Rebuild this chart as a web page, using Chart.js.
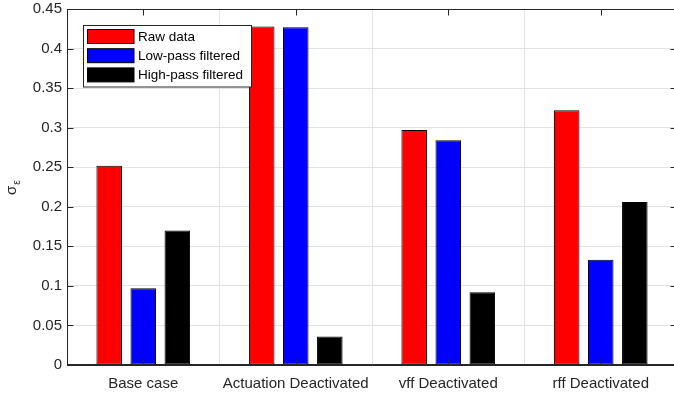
<!DOCTYPE html>
<html>
<head>
<meta charset="utf-8">
<script src="https://cdn.jsdelivr.net/npm/chart.js@4"></script>
<style>
html,body{margin:0;padding:0;background:#fff;overflow:hidden;}
#wrap{width:674px;height:396px;position:relative;overflow:hidden;}
#c{position:absolute;left:0;top:0;}
</style>
</head>
<body>
<div id="wrap"><canvas id="c" width="680" height="396"></canvas></div>
<script>
const categories = ['Base case', 'Actuation Deactivated', 'vff Deactivated', 'rff Deactivated'];
const seriesNames = ['Raw data', 'Low-pass filtered', 'High-pass filtered'];
const rawData = [0.252, 0.428, 0.297, 0.322];
const lowPass = [0.097, 0.427, 0.284, 0.133];
const highPass = [0.170, 0.036, 0.092, 0.206];
const yTicks = [0, 0.05, 0.1, 0.15, 0.2, 0.25, 0.3, 0.35, 0.4, 0.45];
const yLabel = ['σ', 'ε'];

const colors = ['#ff0000', '#0000ff', '#000000'];
const axisColor = '#262626';
const FONT = '"Liberation Sans", Arial, Helvetica, sans-serif';

function toPoints(arr){ return arr.map((v,i)=>({x:i+1, y:v})); }

const series = [rawData, lowPass, highPass];
const datasets = series.map((s, k) => ({
  label: seriesNames[k],
  data: toPoints(s),
  backgroundColor: colors[k],
  borderColor: '#000000',
  borderWidth: 1,
  borderSkipped: false,
  categoryPercentage: 0.67,
  barPercentage: 0.75
}));

const axesPlugin = {
  id: 'matlabAxes',
  afterDatasetsDraw(chart){
    const ctx = chart.ctx, a = chart.chartArea;
    const xs = chart.scales.x, ys = chart.scales.y;
    ctx.save();
    ctx.strokeStyle = axisColor;
    ctx.lineWidth = 1;
    const L = Math.round(a.left)+0.5, R = Math.round(a.right)-0.5, T = Math.round(a.top)+0.5, B = Math.round(a.bottom)-0.5;
    ctx.beginPath();
    ctx.moveTo(L, T); ctx.lineTo(R, T); ctx.lineTo(R, B); ctx.lineTo(L, B); ctx.closePath();
    ctx.stroke();
    const tl = 6;
    ctx.beginPath();
    yTicks.forEach(v => {
      const y = Math.round(ys.getPixelForValue(v)) + 0.5;
      ctx.moveTo(L, y); ctx.lineTo(L + tl, y);
      ctx.moveTo(R, y); ctx.lineTo(R - tl, y);
    });
    categories.forEach((c, i) => {
      const x = Math.round(xs.getPixelForValue(i+1)) + 0.5;
      ctx.moveTo(x, B); ctx.lineTo(x, B - tl);
      ctx.moveTo(x, T); ctx.lineTo(x, T + tl);
    });
    ctx.stroke();
    ctx.restore();
  },
  afterDraw(chart){
    const ctx = chart.ctx, a = chart.chartArea;
    ctx.save();
    ctx.fillStyle = axisColor;
    ctx.translate(16, (a.top + a.bottom)/2 + 2);
    ctx.rotate(-Math.PI/2);
    ctx.textBaseline = 'alphabetic';
    ctx.textAlign = 'left';
    ctx.font = '15px ' + FONT;
    const w = ctx.measureText(yLabel[0]).width;
    ctx.fillText(yLabel[0], -6, 0);
    ctx.font = '10px ' + FONT;
    ctx.fillText(yLabel[1], -6 + w + 1, 4);
    ctx.restore();

    ctx.save();
    const bx = 83.5, by = 25.5, bw = 168, bh = 61.5;
    ctx.fillStyle = '#ffffff';
    ctx.fillRect(bx, by, bw, bh);
    ctx.strokeStyle = axisColor;
    ctx.lineWidth = 1;
    ctx.strokeRect(bx, by, bw, bh);
    ctx.font = '13.5px ' + FONT;
    ctx.textBaseline = 'middle';
    ctx.textAlign = 'left';
    chart.data.datasets.forEach((ds, k) => {
      const sy = 29.5 + k*19.2;
      ctx.fillStyle = ds.backgroundColor;
      ctx.fillRect(87.5, sy, 46.5, 14);
      ctx.strokeStyle = '#000000';
      ctx.strokeRect(87.5, sy, 46.5, 14);
      ctx.fillStyle = '#000000';
      ctx.fillText(ds.label, 138, sy + 7.5);
    });
    ctx.restore();
  }
};

new Chart(document.getElementById('c'), {
  type: 'bar',
  data: { datasets },
  plugins: [axesPlugin],
  options: {
    responsive: false,
    animation: false,
    devicePixelRatio: 1,
    layout: { padding: { left: 0, right: 3, top: 9, bottom: 0 } },
    plugins: { legend: { display: false }, tooltip: { enabled: false }, title: { display: false } },
    scales: {
      x: {
        type: 'linear',
        min: 0.5, max: 4.5,
        offset: false,
        afterBuildTicks: (scale) => { scale.ticks = categories.map((c, i) => ({ value: i + 1 })); },
        afterFit: (scale) => { scale.height = 31; scale.paddingLeft = 0; scale.paddingRight = 0; },
        ticks: {
          autoSkip: false, maxRotation: 0, minRotation: 0,
          padding: 10,
          color: axisColor,
          font: { family: FONT, size: 15 },
          callback: (v) => categories[Math.round(v) - 1]
        },
        grid: { display: true, color: '#e3e3e3', lineWidth: 1, drawTicks: false },
        border: { display: true, color: axisColor }
      },
      y: {
        type: 'linear',
        min: 0, max: 0.45,
        afterBuildTicks: (scale) => { scale.ticks = yTicks.map(v => ({ value: v })); },
        afterFit: (scale) => { scale.width = 67; scale.paddingTop = 0; scale.paddingBottom = 0; },
        ticks: {
          padding: 5,
          color: axisColor,
          font: { family: FONT, size: 15 },
          callback: (v) => String(Number(v.toFixed(2)))
        },
        grid: { display: true, color: '#e3e3e3', lineWidth: 1, drawTicks: false },
        border: { display: true, color: axisColor }
      }
    }
  }
});
</script>
</body>
</html>
